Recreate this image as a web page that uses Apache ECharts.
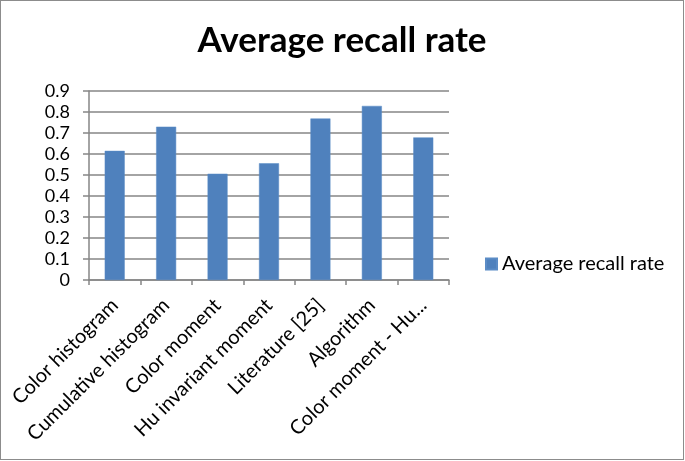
<!DOCTYPE html>
<html><head><meta charset="utf-8">
<script src="https://cdn.jsdelivr.net/npm/echarts@6/dist/echarts.min.js"></script>
<style>html,body{margin:0;padding:0;background:#fff}#c{width:684px;height:460px;box-sizing:border-box;border:1px solid #8c8c8c}</style>
</head><body><div id="c"></div>
<script>
const categories = ["Color histogram","Cumulative histogram","Color moment","Hu invariant moment","Literature [25]","Algorithm","Color moment - Hu..."];
const seriesName = "Average recall rate";
const values = [0.615, 0.73, 0.506, 0.556, 0.769, 0.829, 0.679];
const yTicks = {min:0, max:0.9, interval:0.1};
const chart = echarts.init(document.getElementById('c'), null, {renderer:'canvas'});
const font = 'Lato, "Open Sans", sans-serif';
chart.setOption({
  animation:false,
  title:{text:'Average recall rate', left:'center', top:17, textStyle:{fontFamily:font, fontSize:35, fontWeight:'bold', color:'#000'}},
  legend:{data:[{name:seriesName, icon:'rect'}], orient:'vertical', left:479, top:248, itemWidth:11, itemHeight:11, itemGap:5,
    textStyle:{fontFamily:font, fontSize:20, color:'#000'}},
  grid:{left:88, right:234, top:90, bottom:179, containLabel:false},
  xAxis:{type:'category', data:categories,
    axisLine:{lineStyle:{color:'#868686', width:1.5}},
    axisTick:{show:true, length:5, lineStyle:{color:'#868686', width:1.5}},
    axisLabel:{rotate:45, interval:0, margin:22, fontFamily:font, fontSize:20, color:'#000'}},
  yAxis:{type:'value', min:yTicks.min, max:yTicks.max, interval:yTicks.interval,
    axisLine:{show:true, lineStyle:{color:'#868686', width:1.5}},
    axisTick:{show:true, length:6, lineStyle:{color:'#868686', width:1.5}},
    splitLine:{lineStyle:{color:'#868686', width:1.5}},
    axisLabel:{margin:19, fontFamily:font, fontSize:18, color:'#000', formatter:v=>v===0?'0':v.toFixed(1)}},
  series:[{name:seriesName, type:'bar', data:values, barWidth:20,
    itemStyle:{color:'#4F81BD', borderColor:'#5B8CC6', borderWidth:0.5}}]
});
</script></body></html>
